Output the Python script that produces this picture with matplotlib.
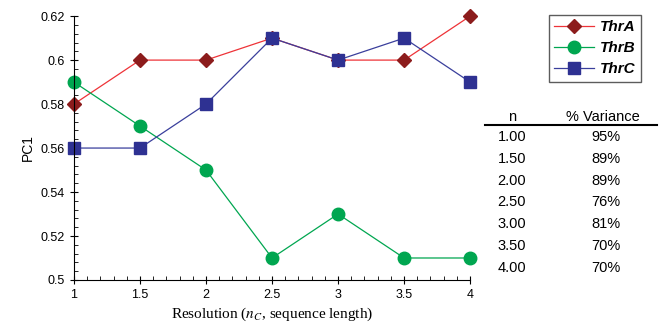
import matplotlib
matplotlib.use("Agg")
import matplotlib.pyplot as plt
from matplotlib.ticker import MultipleLocator

plt.rcParams['font.family'] = ['Liberation Sans', 'DejaVu Sans']
plt.rcParams['mathtext.fontset'] = 'stix'

# Data
resolution = [1, 1.5, 2, 2.5, 3, 3.5, 4]
thr_a = [0.58, 0.60, 0.60, 0.61, 0.60, 0.60, 0.62]
thr_b = [0.59, 0.57, 0.55, 0.51, 0.53, 0.51, 0.51]
thr_c = [0.56, 0.56, 0.58, 0.61, 0.60, 0.61, 0.59]
table_n = ["1.00", "1.50", "2.00", "2.50", "3.00", "3.50", "4.00"]
table_var = ["95%", "89%", "89%", "76%", "81%", "70%", "70%"]

fig = plt.figure(figsize=(6.64, 3.29), dpi=100)
ax = fig.add_axes([0.1114, 0.149, 0.5966, 0.802])

ax.plot(resolution, thr_a, color='#ee3338', lw=0.9, marker='D', ms=7,
        mfc='#8c1c1c', mec='#8c1c1c', label='ThrA')
ax.plot(resolution, thr_b, color='#00a650', lw=0.9, marker='o', ms=9,
        mfc='#00a650', mec='#00a650', label='ThrB')
ax.plot(resolution, thr_c, color='#3a3f9c', lw=0.9, marker='s', ms=9,
        mfc='#2e3192', mec='#2e3192', label='ThrC')

ax.set_xlim(1, 4)
ax.set_ylim(0.5, 0.62)
ax.xaxis.set_minor_locator(MultipleLocator(0.1))
ax.yaxis.set_minor_locator(MultipleLocator(0.004))
ax.set_xticks(resolution)
ax.set_xticklabels(['1', '1.5', '2', '2.5', '3', '3.5', '4'])
ax.set_yticks([0.5, 0.52, 0.54, 0.56, 0.58, 0.6, 0.62])
ax.set_yticklabels(['0.5', '0.52', '0.54', '0.56', '0.58', '0.6', '0.62'])
ax.tick_params(which='major', direction='inout', length=6, width=0.8, labelsize=9)
ax.tick_params(which='minor', direction='in', length=3, width=0.6)
ax.spines['top'].set_visible(False)
ax.spines['right'].set_visible(False)
for line in ax.lines:
    line.set_clip_on(False)

ax.set_ylabel('PC1', fontsize=10)
ax.set_xlabel('Resolution ($n_C$, sequence length)', fontsize=11,
              family='Liberation Serif', labelpad=3)

leg = fig.legend(loc='upper left', bbox_to_anchor=(0.827, 0.954), frameon=True,
                 fancybox=False, edgecolor='#333333', handlelength=2.6,
                 prop={'weight': 'bold', 'style': 'italic', 'size': 11},
                 borderpad=0.35, labelspacing=0.45, handletextpad=0.4,
                 borderaxespad=0)
leg.get_frame().set_linewidth(1.0)

# Side table
fig.text(512 / 664, 1 - 117 / 329, 'n', ha='center', va='center', fontsize=10.5)
fig.text(603 / 664, 1 - 117 / 329, '% Variance', ha='center', va='center', fontsize=10.5)
fig.add_artist(plt.Line2D([485 / 664, 657 / 664], [1 - 125 / 329, 1 - 125 / 329],
                          color='black', lw=1.5, transform=fig.transFigure))
for i, (n, v) in enumerate(zip(table_n, table_var)):
    y = 1 - (137 + i * 21.8) / 329
    fig.text(512 / 664, y, n, ha='center', va='center', fontsize=10.5)
    fig.text(606 / 664, y, v, ha='center', va='center', fontsize=10.5)

fig.savefig('out.png', dpi=100)
